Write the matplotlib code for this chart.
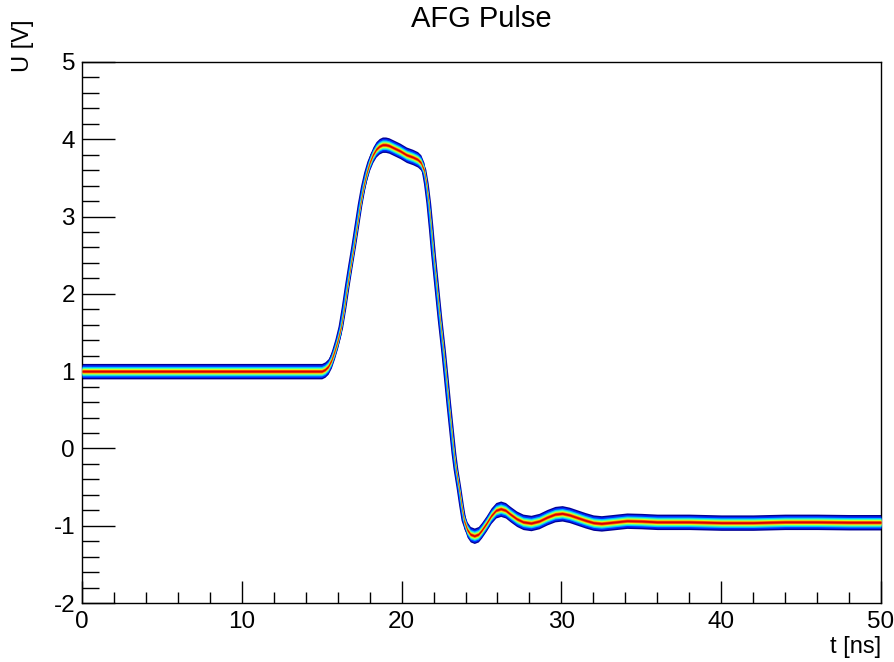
import numpy as np
import matplotlib
matplotlib.use("Agg")
import matplotlib.pyplot as plt
from matplotlib.ticker import MultipleLocator

plt.rcParams['font.family'] = ['Liberation Sans', 'DejaVu Sans']
plt.rcParams['axes.unicode_minus'] = False

# waveform centre
t_ns = [0.0, 5.0, 10.0, 15.0, 15.2, 15.4, 15.6, 15.8, 16.0, 16.2, 16.4, 16.6,
        16.8, 17.0, 17.2, 17.4, 17.6, 17.8, 18.0, 18.2, 18.4, 18.6, 18.8, 19.0,
        19.2, 19.5, 19.9, 20.3, 20.7, 21.0, 21.2, 21.4, 21.55, 21.7, 21.85,
        22.0, 22.2, 22.4, 22.64, 22.8, 22.95, 23.1, 23.27, 23.4, 23.58, 23.75,
        23.9, 24.1, 24.3, 24.55, 24.8, 25.0, 25.3, 25.6, 25.9, 26.2, 26.5,
        26.8, 27.2, 27.6, 28.1, 28.6, 29.1, 29.6, 30.05, 30.5, 31.0, 31.5,
        32.0, 32.5, 33.2, 34.1, 35.0, 36.0, 38.0, 40.0, 42.0, 44.0, 46.0,
        48.0, 50.0]
u_V = [1.0, 1.0, 1.0, 1.0, 1.02, 1.06, 1.14, 1.26, 1.40, 1.57, 1.82, 2.10,
       2.36, 2.61, 2.88, 3.15, 3.38, 3.56, 3.70, 3.80, 3.87, 3.91, 3.93, 3.93,
       3.92, 3.89, 3.85, 3.80, 3.77, 3.74, 3.70, 3.60, 3.42, 3.17, 2.85,
       2.50, 2.09, 1.68, 1.23, 0.90, 0.58, 0.28, -0.06, -0.27, -0.50, -0.74,
       -0.93, -1.05, -1.11, -1.13, -1.11, -1.06, -0.97, -0.87, -0.80, -0.78, -0.80,
       -0.85, -0.91, -0.95, -0.965, -0.94, -0.89, -0.85, -0.84, -0.86, -0.895, -0.93,
       -0.96, -0.97, -0.955, -0.935, -0.94, -0.95, -0.95, -0.96, -0.96, -0.95, -0.95,
       -0.955, -0.955]

# band layers: half width (V) around the centre, colour level
band_half = [0.1, 0.082, 0.062, 0.048, 0.034, 0.022, 0.012]
band_level = [0.02, 0.17, 0.32, 0.45, 0.62, 0.8, 0.92]

title = "AFG Pulse"
xlabel = "t [ns]"
ylabel = "U [V]"

fig = plt.figure(figsize=(8.94, 6.62), dpi=100)
ax = fig.add_axes([82/894, 1-603/662, (881-82)/894, (603-62)/662])

cmap = plt.get_cmap('jet')
t = np.array(t_ns)
u = np.array(u_V)
line_w = [3.4, 2.3, 1.2]
for i, (hw, lv) in enumerate(zip(band_half, band_level)):
    c = cmap(lv)
    ax.fill_between(t, u - hw, u + hw, color=c, lw=0, zorder=2 + i)
    if i < len(line_w):
        ax.plot(t, u, color=c, lw=line_w[i], zorder=2 + i, solid_joinstyle='round')

ax.set_xlim(0, 50)
ax.set_ylim(-2, 5)
ax.xaxis.set_major_locator(MultipleLocator(10))
ax.xaxis.set_minor_locator(MultipleLocator(2))
ax.yaxis.set_major_locator(MultipleLocator(1))
ax.yaxis.set_minor_locator(MultipleLocator(0.2))
ax.tick_params(axis='both', which='both', direction='in', top=False, right=False,
               width=1, labelsize=17.5)
ax.tick_params(axis='x', which='major', length=16, pad=6)
ax.tick_params(axis='x', which='minor', length=8)
ax.tick_params(axis='y', which='major', length=24, pad=5)
ax.tick_params(axis='y', which='minor', length=12)
for s in ax.spines.values():
    s.set_linewidth(1.0)

fig.text(481/894, 1-5/662, title, ha='center', va='top', fontsize=21)
fig.text(881/894, 4/662, xlabel, ha='right', va='bottom', fontsize=17)
fig.text(23/894, 1-19/662, ylabel, ha='center', va='top', rotation=90, fontsize=17)

fig.savefig("out.png", dpi=100)
